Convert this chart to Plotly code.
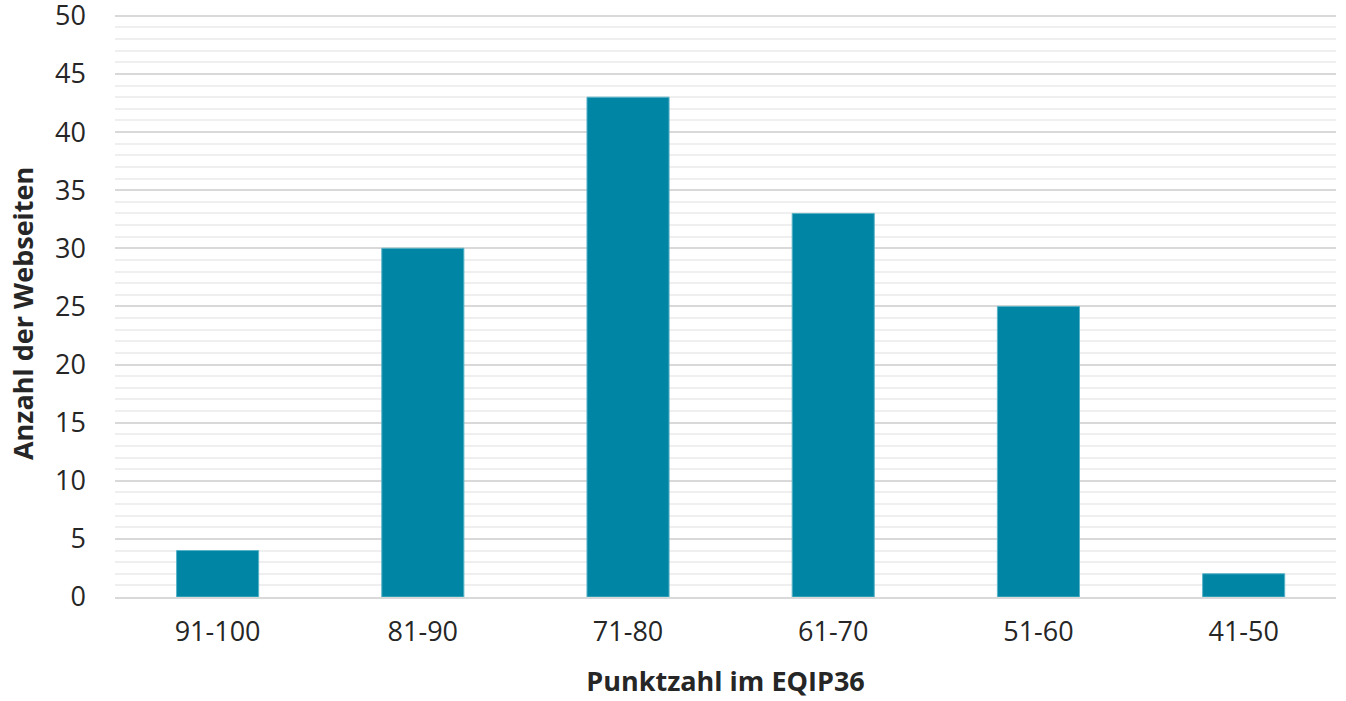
import plotly.graph_objects as go

categories = ["91-100", "81-90", "71-80", "61-70", "51-60", "41-50"]
values = [4, 30, 43, 33, 25, 2]
x_title = "Punktzahl im EQIP36"
y_title = "Anzahl der Webseiten"
y_ticks = [0, 5, 10, 15, 20, 25, 30, 35, 40, 45, 50]

fig = go.Figure(go.Bar(
    x=categories, y=values, width=0.4,
    marker=dict(color="#0085a4", line=dict(color="#5ab3c8", width=1)),
))
font = "Open Sans"
fig.update_layout(
    width=1346, height=701,
    margin=dict(l=115, r=10, t=10, b=104),
    plot_bgcolor="white", paper_bgcolor="white",
    showlegend=False,
    font=dict(family=font, size=27, color="#262626"),
    xaxis=dict(
        range=[-0.5, 5.45], showgrid=False, zeroline=False, automargin=False,
        showline=True, linecolor="#d9d9d9", linewidth=2,
        ticks="", ticklabelstandoff=10,
        tickfont=dict(size=27, color="#262626"),
        title=dict(text="<b>" + x_title + "</b>", font=dict(size=27, color="#262626"), standoff=24),
    ),
    yaxis=dict(
        range=[0, 50.5], tickvals=y_ticks, showgrid=True, gridcolor="#d9d9d9", gridwidth=2,
        zeroline=False, showline=False, ticks="", ticklabelstandoff=28, automargin=False,
        ticklabeloverflow="allow",
        minor=dict(tickvals=list(range(1, 50)), showgrid=True, gridcolor="#efefef", gridwidth=2),
        tickfont=dict(size=27, color="#262626"),
    ),
    annotations=[dict(
        text="<b>" + y_title + "</b>", textangle=-90, showarrow=False,
        xref="paper", yref="paper", x=0, y=0.482, xanchor="center", yanchor="middle",
        xshift=-93, font=dict(size=27, color="#262626"),
    )],
)
fig.write_html("out.html", config={"displayModeBar": False},
               post_script="document.body.style.margin='0';")
